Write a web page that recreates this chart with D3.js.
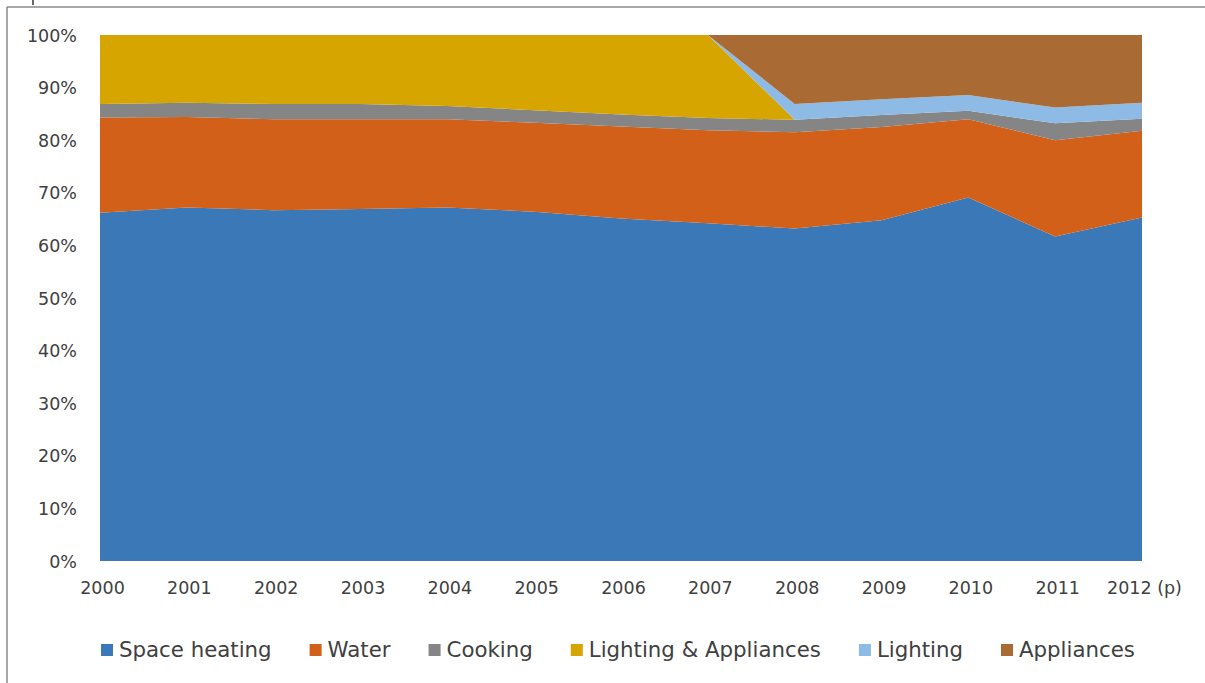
<!DOCTYPE html>
<html>
<head>
<meta charset="utf-8">
<script src="https://cdn.jsdelivr.net/npm/d3@7"></script>
<style>
  html, body { margin: 0; padding: 0; background: #ffffff; }
  svg { display: block; }
</style>
</head>
<body>
<svg id="chart" width="1205" height="683"></svg>
<script>
// ---- Data (percent shares) ----
const years = ["2000","2001","2002","2003","2004","2005","2006","2007","2008","2009","2010","2011","2012 (p)"];
const seriesNames = ["Space heating","Water","Cooking","Lighting & Appliances","Lighting","Appliances"];
const spaceHeating        = [66.2, 67.2, 66.7, 66.9, 67.2, 66.4, 65.1, 64.2, 63.2, 64.8, 69.1, 61.7, 65.3];
const water               = [18.1, 17.2, 17.3, 17.1, 16.8, 16.9, 17.5, 17.7, 18.3, 17.7, 14.9, 18.3, 16.5];
const cooking             = [ 2.6,  2.7,  2.9,  2.9,  2.5,  2.4,  2.3,  2.3,  2.4,  2.3,  1.6,  3.2,  2.3];
const lightingAppliances  = [13.1, 12.9, 13.1, 13.1, 13.5, 14.3, 15.1, 15.8,  0.0,  0.0,  0.0,  0.0,  0.0];
const lighting            = [ 0.0,  0.0,  0.0,  0.0,  0.0,  0.0,  0.0,  0.0,  3.0,  3.0,  3.0,  3.0,  3.0];
const appliances          = [ 0.0,  0.0,  0.0,  0.0,  0.0,  0.0,  0.0,  0.0, 13.1, 12.2, 11.4, 13.8, 12.9];
const yTicks = [0, 10, 20, 30, 40, 50, 60, 70, 80, 90, 100];
const colors = ["#3a78b8", "#d26019", "#858585", "#d7a500", "#8ebbe6", "#aa6a33"];

// ---- Build table ----
const seriesValues = [spaceHeating, water, cooking, lightingAppliances, lighting, appliances];
const table = years.map((yr, i) => {
  const row = { year: yr, idx: i };
  seriesNames.forEach((n, k) => row[n] = seriesValues[k][i]);
  return row;
});

const svg = d3.select("#chart");
const plotLeft = 100, plotRight = 1142, plotTop = 35, plotBottom = 561;

const x = d3.scaleLinear().domain([0, years.length - 1]).range([plotLeft, plotRight]);
const y = d3.scaleLinear().domain([0, 100]).range([plotBottom, plotTop]);

// frame lines of the original screenshot
svg.append("line").attr("x1", 7).attr("x2", 1205).attr("y1", 7).attr("y2", 7)
  .attr("stroke", "#8a8a8a").attr("stroke-width", 1.5);
svg.append("line").attr("x1", 7).attr("x2", 7).attr("y1", 7).attr("y2", 683)
  .attr("stroke", "#8a8a8a").attr("stroke-width", 1.5);
svg.append("line").attr("x1", 33).attr("x2", 33).attr("y1", 0).attr("y2", 5)
  .attr("stroke", "#333").attr("stroke-width", 1.5);

// ---- Stacked areas ----
const stack = d3.stack().keys(seriesNames);
const layers = stack(table);
const area = d3.area()
  .x(d => x(d.data.idx))
  .y0(d => y(d[0]))
  .y1(d => y(d[1]));

svg.append("g").selectAll("path")
  .data(layers)
  .join("path")
  .attr("d", area)
  .attr("fill", (d, i) => colors[i]);

const fontFam = "'DejaVu Sans', Verdana, sans-serif";
const textCol = "#404040";

// ---- Y axis labels ----
const yAxis = d3.axisLeft(y).tickValues(yTicks).tickFormat(d => d + "%").tickSize(0).tickPadding(0);
const yg = svg.append("g").attr("transform", `translate(77,0)`).call(yAxis);
yg.select(".domain").remove();
yg.selectAll("text").attr("font-family", fontFam).attr("font-size", 17.5).attr("fill", textCol)
  .attr("dy", "0.35em");

// ---- X axis labels ----
const xAxis = d3.axisBottom(x).tickValues(d3.range(years.length)).tickFormat(i => years[i]).tickSize(0).tickPadding(0);
const xg = svg.append("g").attr("transform", `translate(2,582)`).call(xAxis);
xg.select(".domain").remove();
xg.selectAll("text").attr("font-family", fontFam).attr("font-size", 17.5).attr("fill", textCol)
  .attr("dy", "0.71em");

// ---- Legend ----
const legend = svg.append("g");
let lx = 101;
seriesNames.forEach((n, i) => {
  legend.append("rect").attr("x", lx).attr("y", 644).attr("width", 12).attr("height", 12).attr("fill", colors[i]);
  const t = legend.append("text").attr("x", lx + 18).attr("y", 657)
    .attr("font-family", fontFam).attr("font-size", 21.3).attr("fill", textCol).text(n);
  const w = t.node().getComputedTextLength();
  lx += 18 + w + 38;
});
</script>
</body>
</html>
